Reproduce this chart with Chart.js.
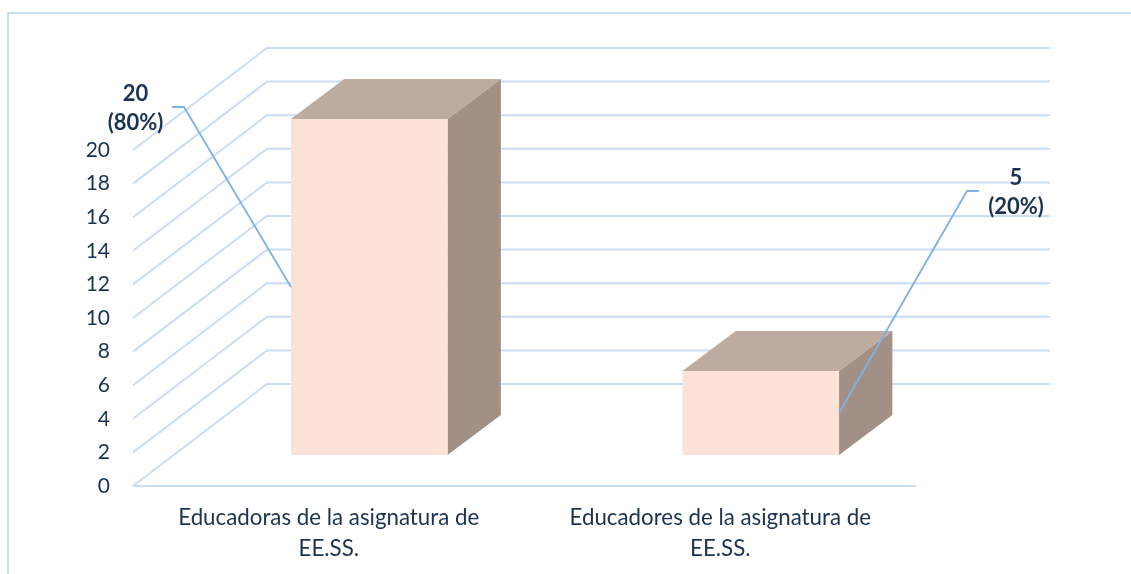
<!DOCTYPE html>
<html>
<head>
<meta charset="utf-8">
<style>html,body{margin:0;padding:0;background:#fff;overflow:hidden}canvas{display:block}</style>
<script src="https://cdn.jsdelivr.net/npm/chart.js@4"></script>
</head>
<body>
<canvas id="c" width="1131" height="574"></canvas>
<script>
const categories = [["Educadoras de la asignatura de","EE.SS."],["Educadores de la asignatura de","EE.SS."]];
const values = [20, 5];
const percents = ["(80%)", "(20%)"];
const yTicks = [0,2,4,6,8,10,12,14,16,18,20];

const FONT = "Lato";
const INK = "#1b3350";
const GRID = "#cbddf2";
const LEADER = "#7fb2e3";
const FRONT = "#fce2d7", TOP = "#bdaba0", SIDE = "#a28f85";
const WALL = {dx:134, dy:-102};     // floor depth
const PLANE = {dx:40.5, dy:-31};    // bars sit part-way back
const BAR = {dx:53.3, dy:-40};      // bar depth

const scene = {
  id:"scene",
  beforeDraw(chart){
    const c = chart.ctx;
    c.save();
    c.fillStyle="#fff"; c.fillRect(0,0,chart.width,chart.height);
    c.strokeStyle="#c9ddf3"; c.lineWidth=2;
    c.beginPath(); c.moveTo(8,chart.height); c.lineTo(8,13); c.lineTo(chart.width,13); c.stroke();
    c.restore();
  },
  beforeDatasetsDraw(chart){
    const c = chart.ctx, {left,right} = chart.chartArea, y = chart.scales.y;
    c.save();
    c.strokeStyle=GRID; c.lineWidth=2;
    yTicks.forEach(v=>{
      const p = y.getPixelForValue(v);
      c.beginPath();
      c.moveTo(left,p);
      c.lineTo(left+WALL.dx,p+WALL.dy);
      c.lineTo(right+WALL.dx,p+WALL.dy);
      c.stroke();
    });
    const b = y.getPixelForValue(0);
    c.beginPath(); c.moveTo(left,b); c.lineTo(right,b); c.stroke();
    c.restore();
  },
  beforeDatasetDraw(chart,args){
    const c = chart.ctx;
    c.save();
    c.translate(PLANE.dx,PLANE.dy);
    args.meta.data.forEach(el=>{
      const l=el.x-el.width/2, r=el.x+el.width/2, t=el.y, b=el.base;
      c.fillStyle=SIDE;
      c.beginPath(); c.moveTo(r,t); c.lineTo(r+BAR.dx,t+BAR.dy); c.lineTo(r+BAR.dx,b+BAR.dy); c.lineTo(r,b); c.closePath(); c.fill();
      c.fillStyle=TOP;
      c.beginPath(); c.moveTo(l,t); c.lineTo(l+BAR.dx,t+BAR.dy); c.lineTo(r+BAR.dx,t+BAR.dy); c.lineTo(r,t); c.closePath(); c.fill();
    });
  },
  afterDatasetDraw(chart){ chart.ctx.restore(); },
  afterDatasetsDraw(chart){
    const c = chart.ctx, els = chart.getDatasetMeta(0).data;
    const mid = el=>(el.y+el.base)/2+PLANE.dy;
    const leaders = [
      [[172,107],[184,107],[els[0].x-els[0].width/2+PLANE.dx,mid(els[0])]],
      [[979,191],[967,191],[els[1].x+els[1].width/2+PLANE.dx,mid(els[1])]]
    ];
    c.save();
    c.strokeStyle=LEADER; c.lineWidth=1.8;
    leaders.forEach(pts=>{
      c.beginPath();
      pts.forEach((p,i)=> i?c.lineTo(p[0],p[1]):c.moveTo(p[0],p[1]));
      c.stroke();
    });
    c.fillStyle=INK; c.textAlign="center"; c.textBaseline="middle";
    c.font="bold 22px "+FONT;
    const pos=[[135.5,94,123],[1016,178,207]];
    values.forEach((v,i)=>{
      c.fillText(String(v),pos[i][0],pos[i][1]);
      c.fillText(percents[i],pos[i][0],pos[i][2]);
    });
    c.restore();
  }
};

new Chart(document.getElementById("c"),{
  type:"bar",
  data:{labels:categories,datasets:[{
    data:values, backgroundColor:FRONT, borderWidth:0,
    barPercentage:1, categoryPercentage:0.4, clip:false
  }]},
  options:{
    responsive:false, animation:false, devicePixelRatio:1,
    layout:{padding:{top:150,right:215,left:0,bottom:0}},
    plugins:{legend:{display:false},tooltip:{enabled:false},title:{display:false}},
    scales:{
      x:{
        grid:{display:false,drawTicks:false}, border:{display:false},
        ticks:{color:INK,font:{family:FONT,size:22.3,lineHeight:1.36},padding:17,maxRotation:0,autoSkip:false},
        afterFit(s){s.height=88;}
      },
      y:{
        min:0,max:20,
        afterBuildTicks(s){s.ticks=yTicks.map(v=>({value:v}));},
        grid:{display:false,drawTicks:false}, border:{display:false},
        ticks:{color:INK,font:{family:FONT,size:21},padding:23},
        afterFit(s){s.width=133;}
      }
    }
  },
  plugins:[scene]
});
</script>
</body>
</html>
